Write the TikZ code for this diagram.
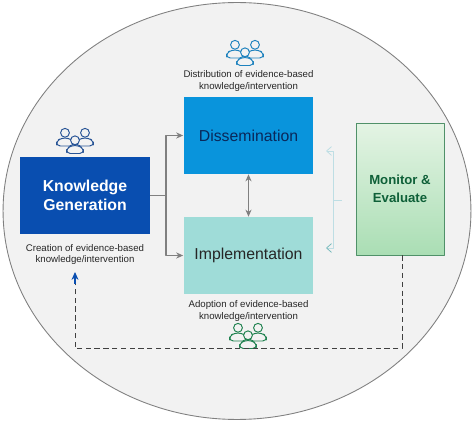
\documentclass[tikz,border=0pt]{standalone}
\usepackage{fontspec}
\setmainfont{Liberation Sans}
\usetikzlibrary{positioning,arrows.meta,calc,shapes.geometric}
\definecolor{FieldGray}{RGB}{242,242,242}
\definecolor{EdgeGray}{RGB}{128,128,128}
\definecolor{KnowBlue}{RGB}{9,78,176}
\definecolor{DissBlue}{RGB}{9,148,220}
\definecolor{ImplTeal}{RGB}{159,220,216}
\definecolor{NavyText}{RGB}{10,40,90}
\definecolor{MonGreen}{RGB}{14,96,56}
\definecolor{MonEdge}{RGB}{80,145,105}
\definecolor{MonTop}{RGB}{228,244,228}
\definecolor{MonBottom}{RGB}{170,222,180}
\definecolor{BraceTeal}{RGB}{190,222,228}
\definecolor{BraceDark}{RGB}{120,186,188}
\definecolor{IconBlue}{RGB}{40,84,150}
\definecolor{IconSky}{RGB}{30,130,190}
\definecolor{IconGreen}{RGB}{32,130,80}
\tikzset{
  people/.pic={
    \foreach \dx/\dy in {-10/-4, 10/-4, 0/3.5} {
      \draw[pic actions, fill=FieldGray] (\dx,\dy-5.2) circle [radius=4.4];
      \draw[pic actions, fill=FieldGray, rounded corners=2.2pt] (\dx-8.5,\dy+8) -- (\dx-8.5,\dy+3) -- (\dx-3.5,\dy) -- (\dx+3.5,\dy) -- (\dx+8.5,\dy+3) -- (\dx+8.5,\dy+8) -- cycle;
    }
  },
  caption/.style={font=\fontsize{5.5}{6.4}\selectfont, align=center, text=black!85},
  block/.style={minimum width=2.6cm, minimum height=1.54cm, align=center}
}
\begin{document}
\begin{tikzpicture}[x=0.02cm, y=-0.02cm, line join=round]
  \useasboundingbox (0,0) rectangle (474,422);
  \node[ellipse, draw=EdgeGray, fill=FieldGray, line width=0.5pt, minimum width=9.36cm, minimum height=8.34cm, inner sep=0pt] (field) at (237,211) {};

  \node[block, fill=KnowBlue, text=white, font=\fontsize{9}{11}\selectfont\bfseries] (know) at (85,195.5) {Knowledge\\Generation};
  \node[block, fill=DissBlue, text=NavyText, font=\fontsize{9}{11}\selectfont] (diss) at (248.5,135.5) {Dissemination};
  \node[block, fill=ImplTeal, text=black!85, font=\fontsize{9}{11}\selectfont] (impl) at (248.5,255.5) {Implementation};
  \node[draw=MonEdge, line width=0.5pt, top color=MonTop, bottom color=MonBottom, text=MonGreen, font=\fontsize{7.5}{10}\selectfont\bfseries, align=center, minimum width=1.76cm, minimum height=2.64cm] (mon) at (400,189) {Monitor \&\\Evaluate};

  \node[caption] (creation) at (85,254.5) {Creation of evidence-based\\knowledge/intervention};
  \node[caption] (distrib) at (248.5,81) {Distribution of evidence-based\\knowledge/intervention};
  \node[caption] (adopt) at (248.5,311) {Adoption of evidence-based\\knowledge/intervention};

  \pic[draw=IconBlue, line width=0.55pt] at (75,142) {people};
  \pic[draw=IconSky, line width=0.55pt] at (245,54) {people};
  \pic[draw=IconGreen, line width=0.55pt] at (248,337) {people};

  % split from generation to the two boxes
  \coordinate (split) at (166,195.5);
  \draw[EdgeGray, line width=0.6pt] (know.east) -- (split);
  \draw[-{Stealth[length=4pt,width=3.5pt]}, EdgeGray, line width=0.6pt] (split) |- (diss.west);
  \draw[-{Stealth[length=4pt,width=3.5pt]}, EdgeGray, line width=0.6pt] (split) |- (impl.west);
  \draw[{Stealth[length=4pt,width=3.5pt]}-{Stealth[length=4pt,width=3.5pt]}, EdgeGray, line width=0.6pt] (diss.south) -- (impl.north);

  % bracket on the left of monitor
  \coordinate (brT) at (326,151);
  \coordinate (brB) at (326,248);
  \coordinate (brM) at (333,200);
  \coordinate (brS) at (342,200);
  \draw[-{Straight Barb[length=2.8pt,width=5pt]}, BraceTeal, line width=0.45pt] (brM) |- (brT);
  \draw[-{Straight Barb[length=2.8pt,width=5pt,color=BraceDark]}, BraceTeal, line width=0.45pt] (brM) |- (brB);
  \draw[BraceTeal, line width=0.45pt] (brM) -- (brS);

  % feedback
  \coordinate (fbR) at (402,348.5);
  \coordinate (fbL) at (75,348.5);
  \coordinate (fbT) at (75,272);
  \draw[densely dashed, black!75, line width=0.55pt] (mon.south -| fbR) -- (fbR) -- (fbL) -- ($(fbT)+(0,12)$);
  \draw[-{Stealth[length=4.5pt,width=4pt]}, KnowBlue, line width=0.6pt] ($(fbT)+(0,12)$) -- (fbT);
\end{tikzpicture}
\end{document}
